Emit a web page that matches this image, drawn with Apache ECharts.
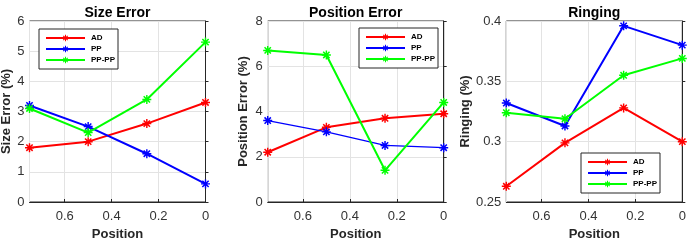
<!DOCTYPE html>
<html>
<head>
<meta charset="utf-8">
<script src="https://cdn.jsdelivr.net/npm/echarts@6/dist/echarts.min.js"></script>
<style>
  html, body { margin: 0; padding: 0; background: #fff; }
  #chart { width: 693px; height: 240px; }
</style>
</head>
<body>
<div id="chart"></div>
<script>
// x positions of the samples (axis is reversed)
const positions = [0.75, 0.5, 0.25, 0];
const seriesNames = ['AD', 'PP', 'PP-PP'];

// Size Error (%)
const sizeAD = [1.8, 2.0, 2.6, 3.3];
const sizePP = [3.2, 2.5, 1.6, 0.6];
const sizePPPP = [3.1, 2.3, 3.4, 5.3];

// Position Error (%)
const posAD = [2.2, 3.3, 3.7, 3.9];
const posPP = [3.6, 3.1, 2.5, 2.4];
const posPPPP = [6.7, 6.5, 1.4, 4.4];

// Ringing (%)
const ringAD = [0.263, 0.299, 0.328, 0.300];
const ringPP = [0.332, 0.313, 0.396, 0.380];
const ringPPPP = [0.324, 0.319, 0.355, 0.369];

const titles = ['Size Error', 'Position Error', 'Ringing'];
const yNames = ['Size Error (%)', 'Position Error (%)', 'Ringing (%)'];
const yRanges = [[0, 6, 1], [0, 8, 2], [0.25, 0.4, 0.05]];
const colors = ['#ff0000', '#0000ff', '#00ff00'];

// asterisk marker like matlab '*'
const star = 'path://M4.2 0L5.8 0L5.8 10L4.2 10Z M0 4.2L10 4.2L10 5.8L0 5.8Z M0.9 2.1L2.1 0.9L9.1 7.9L7.9 9.1Z M7.9 0.9L9.1 2.1L2.1 9.1L0.9 7.9Z';

const panels = [
    [sizeAD, sizePP, sizePPPP],
    [posAD, posPP, posPPPP],
    [ringAD, ringPP, ringPPPP]
];

const gridLeft = [29.5, 267.7, 506.3];
const gridW = 176;
const yNameGap = [17, 18, 33];
const legendPos = [[39, 29], [359, 28], [581, 153]];

const font = 'Liberation Sans, Arial, Helvetica, sans-serif';

const pair = (vals) => positions.map((p, i) => [p, vals[i]]);

const option = {
    animation: false,
    textStyle: { fontFamily: font },
    title: [],
    legend: [],
    grid: [],
    xAxis: [],
    yAxis: [],
    series: []
};

panels.forEach((panel, k) => {
    option.title.push({
        text: titles[k],
        left: gridLeft[k] + gridW / 2,
        top: 6,
        padding: 0,
        textAlign: 'center',
        textStyle: { fontFamily: font, fontSize: 14, fontWeight: 'bold', color: '#000' }
    });
    option.grid.push({
        left: gridLeft[k], top: 21, width: gridW, height: 181,
        outerBoundsMode: 'none', containLabel: false,
        show: true, borderColor: '#262626', borderWidth: 1, backgroundColor: '#fff'
    });
    option.xAxis.push({
        type: 'value', gridIndex: k, inverse: true,
        min: 0, max: 0.75, interval: 0.2,
        name: 'Position', nameLocation: 'middle', nameGap: 24,
        nameTextStyle: { fontFamily: font, fontSize: 13, fontWeight: 'bold', color: '#262626' },
        axisLine: { show: true, lineStyle: { color: '#262626' } },
        axisTick: { show: true, inside: true, length: 3, lineStyle: { color: '#262626' } },
        axisLabel: { fontFamily: font, fontSize: 13, color: '#333', margin: 8, showMaxLabel: false },
        splitLine: { show: true, lineStyle: { color: '#e3e3e3' } }
    });
    const r = yRanges[k];
    option.yAxis.push({
        type: 'value', gridIndex: k,
        min: r[0], max: r[1], interval: r[2],
        name: yNames[k], nameLocation: 'middle', nameGap: yNameGap[k],
        nameTextStyle: { fontFamily: font, fontSize: 13, fontWeight: 'bold', color: '#262626' },
        axisLine: { show: true, lineStyle: { color: '#262626' } },
        axisTick: { show: true, inside: true, length: 3, lineStyle: { color: '#262626' } },
        axisLabel: { fontFamily: font, fontSize: 13, color: '#333', margin: 5 },
        splitLine: { show: true, lineStyle: { color: '#e3e3e3' } }
    });
    option.legend.push({
        data: seriesNames,
        orient: 'vertical',
        left: legendPos[k][0], top: legendPos[k][1],
        padding: [5, 3, 5, 6],
        itemWidth: 39, itemHeight: 8, itemGap: 3,
        backgroundColor: '#fff', borderColor: '#262626', borderWidth: 1,
        textStyle: { fontFamily: font, fontSize: 8, fontWeight: 'bold', color: '#000', padding: [0, 0, 0, 1] }
    });
    panel.forEach((vals, s) => {
        option.series.push({
            name: seriesNames[s],
            type: 'line',
            xAxisIndex: k, yAxisIndex: k,
            data: pair(vals),
            symbol: star,
            symbolSize: 9,
            color: colors[s],
            lineStyle: { width: (k === 1 && s === 1) ? 1.3 : 2, color: colors[s] },
            itemStyle: { color: colors[s] },
            z: 3 + s
        });
    });
});

const chart = echarts.init(document.getElementById('chart'), null, { renderer: 'canvas' });
chart.setOption(option);
</script>
</body>
</html>
